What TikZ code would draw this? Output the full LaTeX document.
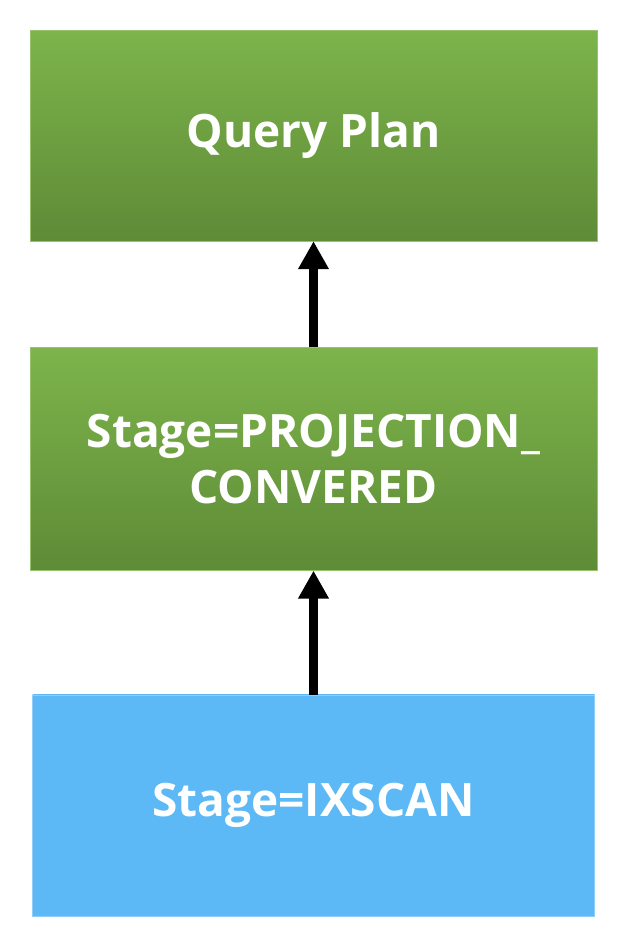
\documentclass[tikz,border=0pt]{standalone}
\usepackage{fontspec}
\setmainfont{Open Sans}
\usetikzlibrary{positioning,arrows.meta}

\definecolor{planTop}{HTML}{7DB44B}
\definecolor{planBot}{HTML}{5E8B37}
\definecolor{scanBlue}{HTML}{5DB9F5}

\tikzset{
    stagebox/.style={rectangle, minimum width=567pt, inner sep=0pt,
        top color=planTop, bottom color=planBot, draw=planTop!80!white,
        text=white, font=\bfseries\fontsize{46}{56}\selectfont, align=center},
    scanbox/.style={stagebox, fill=scanBlue, top color=scanBlue, bottom color=scanBlue,
        draw=scanBlue!70!white, minimum width=562pt},
    feed/.style={line width=9pt, -{Triangle[width=29pt,length=28pt]}}
}

\begin{document}
\begin{tikzpicture}[x=1pt, y=-1pt]
    % Canvas
    \useasboundingbox (0,0) rectangle (618,930);
    
    % Stages, bottom to top
    \node[stagebox, minimum height=211pt] (plan) at (313.5,135.5) {Query Plan};
    \node[stagebox, minimum height=223pt, below=106pt of plan] (proj) {Stage=PROJECTION\_\\CONVERED};
    \node[scanbox, minimum height=221pt, below=124pt of proj] (ixscan) {Stage=IXSCAN};
    
    % Data flows upward
    \draw[feed] (ixscan.north) -- (proj.south);
    \draw[feed] (proj.north) -- (plan.south);
\end{tikzpicture}
\end{document}
